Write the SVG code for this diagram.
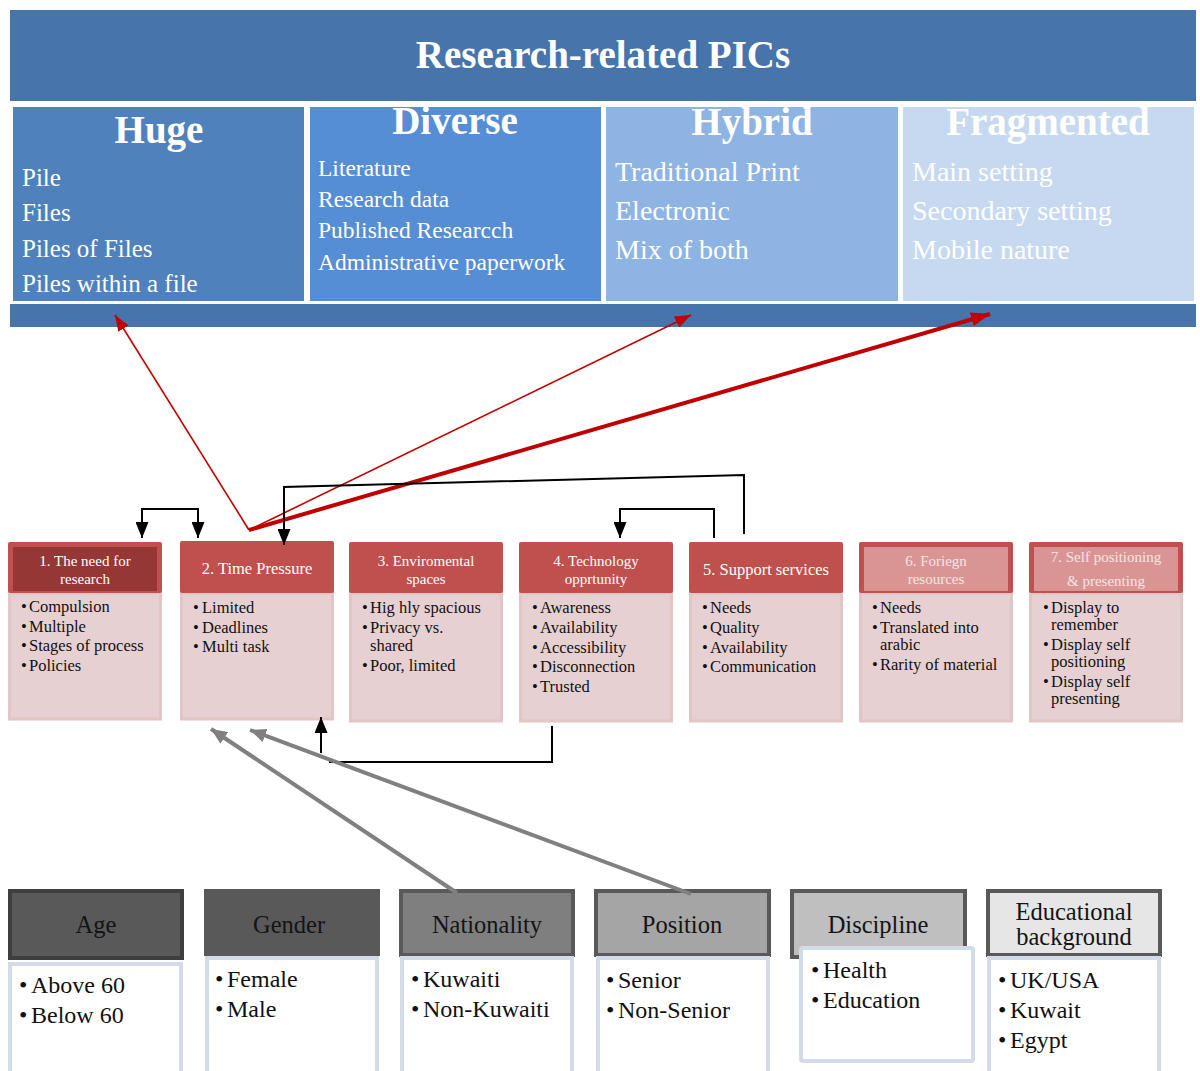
<svg xmlns="http://www.w3.org/2000/svg" width="1200" height="1071" viewBox="0 0 1200 1071">
<style>
text{font-family:"Liberation Serif","Times New Roman",serif;}
.ttl{font-weight:bold;font-size:39px;text-anchor:middle;fill:#fff;}
.i1{font-size:25px;fill:#fff;}
.i2{font-size:23.5px;fill:#fff;}
.i3{font-size:28px;fill:#fff;}
.hd{font-size:16.5px;fill:#fff;text-anchor:middle;}
.hd2{font-size:15px;fill:#fff;text-anchor:middle;}
.hdl{font-size:15px;fill:#f7e4e4;text-anchor:middle;}
.bd{font-size:16.5px;fill:#111;}
.hr{fill:#c0504d;}
.body{fill:#e7d0d1;stroke:#e3c5c6;stroke-width:3;}
.gh{font-size:24.5px;fill:#141414;text-anchor:middle;}
.gb{font-size:24px;fill:#111;}
.gbody{fill:#fff;stroke:#d3dbe8;stroke-width:4;}
.red{stroke:#c00000;fill:none;}
.blk{stroke:#000;stroke-width:2;fill:none;}
.gry{stroke:#808080;stroke-width:4;fill:none;}
</style>
<defs>
<marker id="mr" markerUnits="userSpaceOnUse" markerWidth="16" markerHeight="12" refX="16" refY="6" orient="auto" viewBox="0 0 16 12"><path d="M0,0 L16,6 L0,12 z" fill="#c00000"/></marker>
<marker id="mr2" markerUnits="userSpaceOnUse" markerWidth="19" markerHeight="14" refX="19" refY="7" orient="auto" viewBox="0 0 19 14"><path d="M0,0 L19,7 L0,14 z" fill="#c00000"/></marker>
<marker id="mb" markerUnits="userSpaceOnUse" markerWidth="16" markerHeight="13" refX="16" refY="6.5" orient="auto" viewBox="0 0 16 13"><path d="M0,0 L16,6.5 L0,13 z" fill="#000"/></marker>
<marker id="mg" markerUnits="userSpaceOnUse" markerWidth="16" markerHeight="14" refX="16" refY="7" orient="auto" viewBox="0 0 16 14"><path d="M0,0 L16,7 L0,14 z" fill="#808080"/></marker>
</defs>

<g id="banner">
<rect x="10" y="10" width="1186" height="91" fill="#4774aa"/>
<text class="ttl" x="603" y="68">Research-related PICs</text>
</g>
<g id="huge">
<rect x="13" y="107" width="291" height="194" fill="#4f81bd"/>
<text class="ttl" x="159" y="143" font-size="38">Huge</text>
<text class="i1" x="22" y="186">Pile</text>
<text class="i1" x="22" y="221">Files</text>
<text class="i1" x="22" y="257">Piles of Files</text>
<text class="i1" x="22" y="292">Piles within a file</text>
</g>
<g id="diverse">
<rect x="310" y="107" width="291" height="194" fill="#558ed5"/>
<text class="ttl" x="455" y="134">Diverse</text>
<text class="i2" x="318" y="176">Literature</text>
<text class="i2" x="318" y="207">Research data</text>
<text class="i2" x="318" y="238">Published Researcch</text>
<text class="i2" x="318" y="270">Administrative paperwork</text>
</g>
<g id="hybrid">
<rect x="606" y="107" width="292" height="194" fill="#8eb4e3"/>
<text class="ttl" x="752" y="135">Hybrid</text>
<text class="i3" x="615" y="181">Traditional Print</text>
<text class="i3" x="615" y="220">Electronic</text>
<text class="i3" x="615" y="259">Mix of both</text>
</g>
<g id="fragmented">
<rect x="903" y="107" width="291" height="194" fill="#c6d9f1"/>
<text class="ttl" x="1048" y="135">Fragmented</text>
<text class="i3" x="912" y="181">Main setting</text>
<text class="i3" x="912" y="220">Secondary setting</text>
<text class="i3" x="912" y="259">Mobile nature</text>
</g>
<g id="band">
<rect x="10" y="304" width="1186" height="23" fill="#4774aa"/>
</g>

<g id="f1">
<rect class="body" x="9.5" y="593" width="151" height="126"/>
<rect class="hr" x="8" y="542" width="154" height="51" rx="2"/>
<rect x="13" y="547" width="144" height="44" fill="#953735"/>
<text class="hd2" x="85" y="566">1. The need for</text>
<text class="hd2" x="85" y="584">research</text>
<g class="bd"><text x="21" y="612">•</text><text x="29" y="612">Compulsion</text>
<text x="21" y="632">•</text><text x="29" y="632">Multiple</text>
<text x="21" y="651">•</text><text x="29" y="651">Stages of process</text>
<text x="21" y="671">•</text><text x="29" y="671">Policies</text></g>
</g>
<g id="f2">
<rect class="body" x="181.5" y="593" width="151" height="126"/>
<rect class="hr" x="180" y="541" width="154" height="52" rx="2"/>
<text class="hd" x="257" y="574">2. Time Pressure</text>
<g class="bd"><text x="193" y="613">•</text><text x="202" y="613">Limited</text>
<text x="193" y="633">•</text><text x="202" y="633">Deadlines</text>
<text x="193" y="652">•</text><text x="202" y="652">Multi task</text></g>
</g>
<g id="f3">
<rect class="body" x="350.5" y="593" width="151" height="128"/>
<rect class="hr" x="349" y="542" width="154" height="51" rx="2"/>
<text class="hd2" x="426" y="566">3. Enviromental</text>
<text class="hd2" x="426" y="584">spaces</text>
<g class="bd"><text x="362" y="613">•</text><text x="370" y="613">Hig hly spacious</text>
<text x="362" y="633">•</text><text x="370" y="633">Privacy vs.</text>
<text x="370" y="651">shared</text>
<text x="362" y="671">•</text><text x="370" y="671">Poor, limited</text></g>
</g>
<g id="f4">
<rect class="body" x="520.5" y="593" width="151" height="128"/>
<rect class="hr" x="519" y="542" width="154" height="51" rx="2"/>
<text class="hd2" x="596" y="566">4. Technology</text>
<text class="hd2" x="596" y="584">opprtunity</text>
<g class="bd"><text x="532" y="613">•</text><text x="540" y="613">Awareness</text>
<text x="532" y="633">•</text><text x="540" y="633">Availability</text>
<text x="532" y="653">•</text><text x="540" y="653">Accessibility</text>
<text x="532" y="672">•</text><text x="540" y="672">Disconnection</text>
<text x="532" y="692">•</text><text x="540" y="692">Trusted</text></g>
</g>
<g id="f5">
<rect class="body" x="690.5" y="593" width="151" height="128"/>
<rect class="hr" x="689" y="542" width="154" height="51" rx="2"/>
<text class="hd" x="766" y="575">5. Support services</text>
<g class="bd"><text x="702" y="613">•</text><text x="710" y="613">Needs</text>
<text x="702" y="633">•</text><text x="710" y="633">Quality</text>
<text x="702" y="653">•</text><text x="710" y="653">Availability</text>
<text x="702" y="672">•</text><text x="710" y="672">Communication</text></g>
</g>
<g id="f6">
<rect class="body" x="860.5" y="593" width="151" height="128"/>
<rect class="hr" x="859" y="542" width="154" height="51" rx="2"/>
<rect x="864" y="547" width="144" height="44" fill="#d99594"/>
<text class="hdl" x="936" y="566">6. Foriegn</text>
<text class="hdl" x="936" y="584">resources</text>
<g class="bd"><text x="872" y="613">•</text><text x="880" y="613">Needs</text>
<text x="872" y="633">•</text><text x="880" y="633">Translated into</text>
<text x="880" y="650">arabic</text>
<text x="872" y="670">•</text><text x="880" y="670">Rarity of material</text></g>
</g>
<g id="f7">
<rect class="body" x="1030.5" y="593" width="151" height="128"/>
<rect class="hr" x="1029" y="542" width="154" height="51" rx="2"/>
<rect x="1034" y="547" width="144" height="44" fill="#d99594"/>
<text class="hdl" x="1106" y="562">7. Self positioning</text>
<text class="hdl" x="1106" y="586">&amp; presenting</text>
<g class="bd"><text x="1043" y="613">•</text><text x="1051" y="613">Display to</text>
<text x="1051" y="630">remember</text>
<text x="1043" y="650">•</text><text x="1051" y="650">Display self</text>
<text x="1051" y="667">positioning</text>
<text x="1043" y="687">•</text><text x="1051" y="687">Display self</text>
<text x="1051" y="704">presenting</text></g>
</g>

<g id="age">
<rect x="10" y="891" width="172" height="67" fill="#595959" stroke="#3f3f3f" stroke-width="4"/>
<text class="gh" x="96" y="933">Age</text>
<rect class="gbody" x="10" y="964" width="171" height="112"/>
<g class="gb"><text x="19" y="993">•</text><text x="31" y="993">Above 60</text>
<text x="19" y="1023">•</text><text x="31" y="1023">Below 60</text></g>
</g>
<g id="gender">
<rect x="204" y="889" width="176" height="67" fill="#595959"/>
<text class="gh" x="289" y="933">Gender</text>
<rect class="gbody" x="207" y="958" width="170" height="118"/>
<g class="gb"><text x="215" y="987">•</text><text x="227" y="987">Female</text>
<text x="215" y="1017">•</text><text x="227" y="1017">Male</text></g>
</g>
<g id="nationality">
<rect x="401" y="891" width="172" height="64" fill="#7f7f7f" stroke="#595959" stroke-width="4"/>
<text class="gh" x="487" y="933">Nationality</text>
<rect class="gbody" x="402" y="958" width="170" height="118"/>
<g class="gb"><text x="411" y="987">•</text><text x="423" y="987">Kuwaiti</text>
<text x="411" y="1017">•</text><text x="423" y="1017">Non-Kuwaiti</text></g>
</g>
<g id="position">
<rect x="596" y="891" width="173" height="64" fill="#a5a5a5" stroke="#595959" stroke-width="4"/>
<text class="gh" x="682" y="933">Position</text>
<rect class="gbody" x="598" y="958" width="170" height="118"/>
<g class="gb"><text x="606" y="988">•</text><text x="618" y="988">Senior</text>
<text x="606" y="1018">•</text><text x="618" y="1018">Non-Senior</text></g>
</g>
<g id="discipline">
<rect x="792" y="891" width="173" height="66" fill="#bfbfbf" stroke="#595959" stroke-width="4"/>
<text class="gh" x="878" y="933">Discipline</text>
<rect class="gbody" x="801" y="948" width="172" height="113" rx="2"/>
<g class="gb"><text x="811" y="978">•</text><text x="823" y="978">Health</text>
<text x="811" y="1008">•</text><text x="823" y="1008">Education</text></g>
</g>
<g id="education">
<rect x="988" y="891" width="172" height="64" fill="#e6e6e6" stroke="#595959" stroke-width="4"/>
<text class="gh" x="1074" y="920">Educational</text>
<text class="gh" x="1074" y="945">background</text>
<rect class="gbody" x="989" y="958" width="170" height="118"/>
<g class="gb"><text x="998" y="988">•</text><text x="1010" y="988">UK/USA</text>
<text x="998" y="1018">•</text><text x="1010" y="1018">Kuwait</text>
<text x="998" y="1048">•</text><text x="1010" y="1048">Egypt</text></g>
</g>

<g id="connectors">
<path class="red" stroke-width="1.6" d="M249,530 L115,315" marker-end="url(#mr)"/>
<path class="red" stroke-width="1.6" d="M249,530 L691,315" marker-end="url(#mr)"/>
<path class="red" stroke-width="4" d="M249,530 L990,314" marker-end="url(#mr2)"/>
<path class="blk" d="M170,509 H142 V538" marker-end="url(#mb)"/>
<path class="blk" d="M170,509 H198 V538" marker-end="url(#mb)"/>
<path class="blk" d="M744,534 V475 L284,487 V545" marker-end="url(#mb)"/>
<path class="blk" d="M714,538 V509 H620 V538" marker-end="url(#mb)"/>
<path class="blk" d="M552,726 V762 H329"/>
<path class="blk" d="M321,753 V717" marker-end="url(#mb)"/>
<path class="gry" d="M457,893 L211,729" marker-end="url(#mg)"/>
<path class="gry" d="M691,894 L250,730" marker-end="url(#mg)"/>
</g>
</svg>
